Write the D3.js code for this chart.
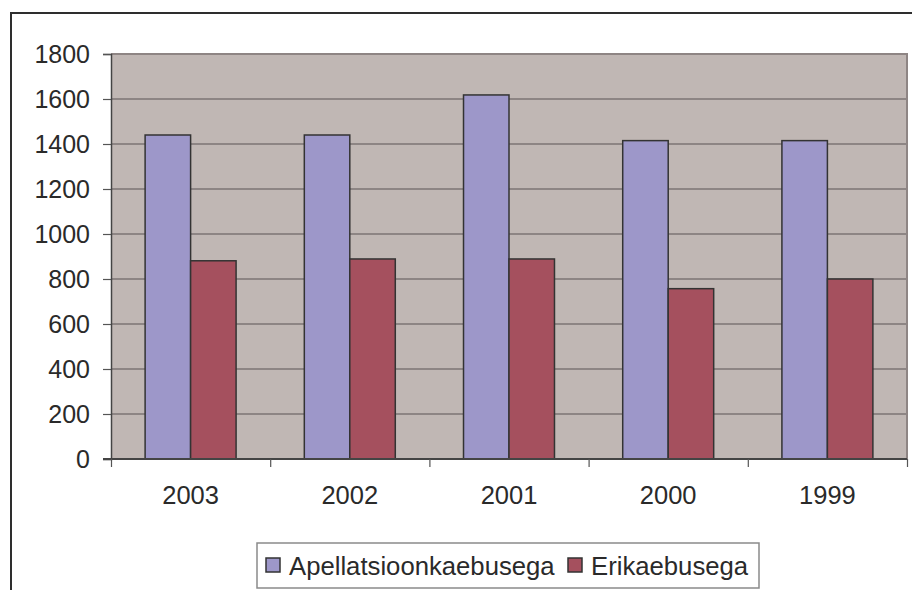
<!DOCTYPE html>
<html>
<head>
<meta charset="utf-8">
<script src="https://cdn.jsdelivr.net/npm/d3@7"></script>
<style>
  html, body { margin: 0; padding: 0; background: #fff; }
  svg { display: block; font-family: "Liberation Sans", Arial, sans-serif; }
</style>
</head>
<body>
<svg id="chart" width="912" height="590"></svg>
<script>
const categories = ["2003", "2002", "2001", "2000", "1999"];
const seriesNames = ["Apellatsioonkaebusega", "Erikaebusega"];
const apellatsioon = [1440, 1440, 1618, 1415, 1415];
const erikaebus = [881, 889, 889, 757, 800];
const yTicks = [0, 200, 400, 600, 800, 1000, 1200, 1400, 1600, 1800];
const colors = ["#9D97C9", "#A5505E"];

const svg = d3.select("#chart");
const plot = { left: 111, right: 907, top: 54, bottom: 459 };

// outer chart border (extends beyond viewport)
svg.append("rect")
  .attr("x", 11).attr("y", 13)
  .attr("width", 1000).attr("height", 700)
  .attr("fill", "#fff").attr("stroke", "#2e2e2e").attr("stroke-width", 2);

const x = d3.scaleBand().domain(categories).range([plot.left, plot.right]).paddingInner(0).paddingOuter(0);
const xs = d3.scaleBand().domain(seriesNames).range([0, x.bandwidth()]).paddingInner(0).paddingOuter(0.75);
const y = d3.scaleLinear().domain([0, 1800]).range([plot.bottom, plot.top]);

// plot background
svg.append("rect")
  .attr("x", plot.left).attr("y", plot.top)
  .attr("width", plot.right - plot.left).attr("height", plot.bottom - plot.top)
  .attr("fill", "#C0B7B4");

// gridlines
svg.append("g").selectAll("line")
  .data(yTicks.filter(d => d > 0))
  .join("line")
  .attr("x1", plot.left).attr("x2", plot.right)
  .attr("y1", d => y(d)).attr("y2", d => y(d))
  .attr("stroke", "#7C7474").attr("stroke-width", 1.5);

// plot border top/right
svg.append("path")
  .attr("d", `M${plot.left},${plot.top}H${plot.right}V${plot.bottom}`)
  .attr("fill", "none").attr("stroke", "#8E8584").attr("stroke-width", 2);

// bars
const data = categories.map((c, i) => ({ cat: c, vals: [apellatsioon[i], erikaebus[i]] }));
const groups = svg.append("g").selectAll("g")
  .data(data).join("g")
  .attr("transform", d => `translate(${x(d.cat)},0)`);
groups.selectAll("rect")
  .data(d => d.vals.map((v, j) => ({ name: seriesNames[j], v, j })))
  .join("rect")
  .attr("x", d => xs(d.name))
  .attr("y", d => y(d.v))
  .attr("width", xs.bandwidth())
  .attr("height", d => y(0) - y(d.v))
  .attr("fill", d => colors[d.j])
  .attr("stroke", "#333").attr("stroke-width", 1.5);

// y axis
const yAxis = d3.axisLeft(y).tickValues(yTicks).tickSize(8).tickPadding(13).tickFormat(d3.format("d"));
const gy = svg.append("g").attr("transform", `translate(${plot.left},0)`).call(yAxis);
gy.select(".domain").attr("stroke", "#444").attr("stroke-width", 1.5);
gy.selectAll(".tick line").attr("stroke", "#555").attr("stroke-width", 1.2);
gy.selectAll(".tick text").attr("font-size", 25).attr("fill", "#2a2a2a")
  .attr("font-family", "'Liberation Sans', Arial, sans-serif");

// x axis: boundary ticks
const xb = d3.scaleLinear().domain([0, categories.length]).range([plot.left, plot.right]);
const xAxis = d3.axisBottom(xb).ticks(categories.length).tickSize(8).tickFormat("");
const gx = svg.append("g").attr("transform", `translate(0,${plot.bottom})`).call(xAxis);
gx.select(".domain").attr("stroke", "#444").attr("stroke-width", 1.8)
  .attr("d", `M${plot.left - 8},0H${plot.right}`);
gx.selectAll(".tick line").attr("stroke", "#555").attr("stroke-width", 1.2);

// category labels
svg.append("g").selectAll("text")
  .data(categories).join("text")
  .attr("x", d => x(d) + x.bandwidth() / 2)
  .attr("y", 504)
  .attr("text-anchor", "middle")
  .attr("font-size", 25.5).attr("fill", "#2a2a2a")
  .text(d => d);

// legend
const legend = svg.append("g");
legend.append("rect")
  .attr("x", 257).attr("y", 543).attr("width", 502).attr("height", 45)
  .attr("fill", "#fff").attr("stroke", "#8a8a8a").attr("stroke-width", 1.5);
const legX = [266, 568];
seriesNames.forEach((n, i) => {
  legend.append("rect")
    .attr("x", legX[i]).attr("y", 558).attr("width", 14).attr("height", 14)
    .attr("fill", colors[i]).attr("stroke", "#333").attr("stroke-width", 1.5);
  legend.append("text")
    .attr("x", legX[i] + 23).attr("y", 575)
    .attr("font-size", 25.7).attr("fill", "#2a2a2a")
    .text(n);
});
</script>
</body>
</html>
